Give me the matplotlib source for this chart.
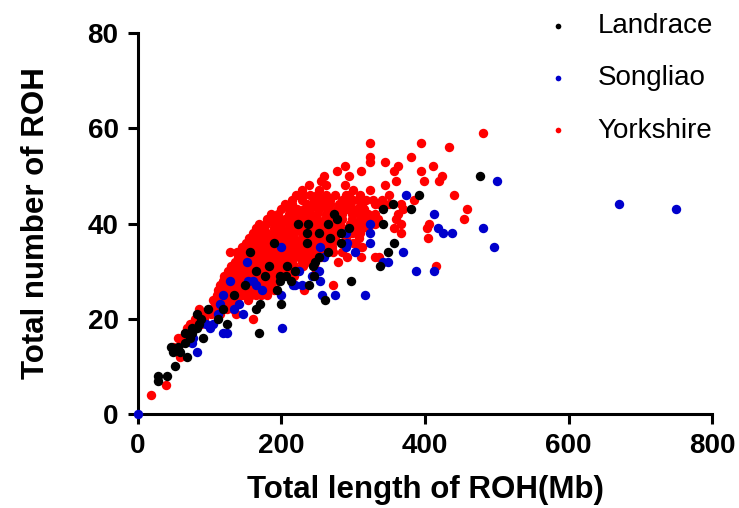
import numpy as np
import matplotlib.pyplot as plt

# Landrace (black)
landrace_x = [476, 391, 355, 380, 342, 342, 357, 348, 337, 297, 273, 277, 294, 283, 283,
              265, 237, 223, 236, 252, 236, 267, 265, 252, 247, 244, 246, 239, 260, 219,
              207, 206, 213, 198, 198, 194, 200, 190, 183, 177, 164, 156, 149, 170, 164,
              169, 134, 124, 118, 111, 98, 82, 88, 85, 82, 75, 72, 90, 65, 65, 56, 46, 49,
              59, 69, 52, 41, 28, 28, 75]
landrace_y = [50, 46, 44, 43, 43, 40, 36, 34, 31, 28, 42, 41, 39, 38, 36,
              40, 40, 40, 38, 38, 36, 37, 34, 33, 32, 31, 29, 27, 24, 30,
              31, 29, 28, 29, 28, 26, 23, 36, 31, 29, 30, 34, 27, 23, 22,
              17, 25, 19, 22, 20, 22, 21, 20, 19, 18, 17, 16, 16, 17, 15, 14, 14, 13,
              13, 12, 10, 8, 8, 7, 18]

# Songliao (blue)
songliao_x = [0, 500, 671, 750, 481, 496, 412, 418, 425, 437, 388, 412, 374, 369, 342,
              348, 323, 323, 324, 316, 290, 290, 291, 302, 275, 257, 259, 253, 252, 253,
              242, 229, 225, 219, 216, 200, 200, 201, 173, 164, 160, 154, 152, 147, 141,
              134, 128, 118, 115, 111, 118, 124, 105, 101, 95, 82, 75, 72, 77]
songliao_y = [0, 49, 44, 43, 39, 35, 42, 39, 38, 38, 30, 30, 46, 34, 32,
              32, 40, 38, 36, 25, 38, 35, 36, 34, 25, 25, 33, 35, 30, 28,
              29, 27, 30, 27, 27, 35, 25, 18, 26, 27, 28, 28, 32, 21, 23,
              22, 28, 25, 23, 21, 17, 17, 19, 18, 19, 13, 15, 17, 16]

# Yorkshire (red) - outer points and first pass through the dense cloud
yorkshire_x = [481, 395, 323, 433, 323, 380, 324, 344, 288, 363, 411, 311, 395, 277, 357,
               294, 259, 424, 419, 399, 359, 344, 324, 288, 239, 440, 385, 458, 455, 406,
               403, 404, 415, 367, 367, 360, 336, 331, 311, 306, 308, 279, 232, 160, 154,
               137, 128, 105, 85, 80, 56, 59, 49, 39, 18,
               255, 262, 300, 252, 228, 230, 262, 275, 310, 220,
               215, 245, 268, 285, 300, 318, 340, 205, 235, 258, 280, 296, 330, 350,
               200, 222, 240, 265, 290, 305, 370, 185, 210, 228, 250, 272, 298, 320,
               180, 195, 215, 240, 260, 285, 312, 335, 168, 178, 200, 222, 248, 270, 295, 330,
               165, 190, 210, 232, 258, 280, 305, 320, 160, 180, 198, 218, 240, 262, 285, 310,
               155, 172, 190, 208, 228, 250, 275, 150, 168, 185, 200, 215, 235, 258, 300,
               145, 160, 178, 195, 212, 230, 250, 270, 150, 170, 188, 205, 222, 240, 262, 285,
               140, 158, 175, 195, 215, 235, 255, 135, 150, 168, 185, 205, 228,
               130, 145, 162, 180, 198, 218, 245, 125, 140, 155, 172, 190, 210,
               120, 135, 150, 168, 185, 118, 132, 148, 162, 180, 195, 115, 128, 142, 158, 175,
               112, 125, 140, 155, 170, 190, 110, 122, 138, 150, 165, 180,
               115, 130, 108, 122, 140, 100, 115, 132, 95, 92, 88, 72, 78, 68, 65, 62, 60,
               357, 362, 367, 350, 336, 311, 306, 294, 288, 311, 331, 304, 312, 291,
               210, 225, 245, 268, 190, 205, 232, 255, 278, 212, 238, 262, 218, 248, 272]
yorkshire_y = [59, 57, 57, 56, 54, 54, 53, 53, 52, 52, 52, 51, 51, 51, 51,
               50, 50, 50, 49, 49, 49, 48, 47, 48, 48, 46, 45, 43, 41, 40,
               39, 37, 31, 38, 40, 41, 33, 33, 33, 35, 37, 32, 26, 20, 24,
               21, 34, 24, 22, 20, 16, 12, 14, 6, 4,
               49, 48, 47, 47, 47, 46, 46, 46, 46, 46,
               45, 45, 45, 45, 45, 45, 45, 44, 44, 44, 44, 44, 44, 44,
               43, 43, 43, 43, 43, 43, 43, 42, 42, 42, 42, 42, 42, 42,
               41, 41, 41, 41, 41, 41, 41, 41, 40, 40, 40, 40, 40, 40, 40, 40,
               39, 39, 39, 39, 39, 39, 39, 39, 38, 38, 38, 38, 38, 38, 38, 38,
               37, 37, 37, 37, 37, 37, 37, 36, 36, 36, 36, 36, 36, 36, 36,
               35, 35, 35, 35, 35, 35, 35, 35, 34, 34, 34, 34, 34, 34, 34, 34,
               33, 33, 33, 33, 33, 33, 33, 32, 32, 32, 32, 32, 32,
               31, 31, 31, 31, 31, 31, 31, 30, 30, 30, 30, 30, 30,
               29, 29, 29, 29, 29, 28, 28, 28, 28, 28, 28, 27, 27, 27, 27, 27,
               26, 26, 26, 26, 26, 26, 25, 25, 25, 25, 25, 25,
               24, 24, 23, 23, 23, 22, 22, 22, 21, 20, 19, 19, 18, 18, 17, 16, 15,
               39, 42, 44, 46, 44, 43, 45, 46, 44, 41, 41, 38, 35, 33,
               39, 41, 37, 37, 33, 36, 34, 39, 41, 31, 42, 36, 29, 30, 27]

# Yorkshire (red) - the rest of the dense cloud
yorkshire_x2 = [240, 250, 290, 228, 255, 292, 308, 328,
                215, 245, 268, 288, 312, 340, 210, 232, 252, 278, 298, 315,
                195, 218, 238, 262, 285, 308, 330, 188, 205, 228, 250, 272, 298, 322,
                190, 212, 235, 258, 282, 305, 318, 175, 200, 220, 245, 268, 292, 312,
                170, 190, 208, 228, 250, 272, 298, 162, 180, 198, 218, 238, 262, 290,
                158, 176, 192, 208, 225, 246, 270, 152, 168, 186, 204, 220, 240, 260,
                138, 160, 178, 196, 214, 232, 252, 272, 148, 166, 185, 205, 225, 245,
                142, 158, 176, 195, 215, 240, 138, 152, 170, 188, 208, 230,
                132, 148, 164, 180, 200, 128, 142, 158, 176, 195,
                125, 140, 155, 170, 188, 122, 135, 150, 166, 185,
                118, 132, 148, 162, 180, 115, 130, 145, 158, 172,
                110, 122, 138, 115, 130, 108, 124, 102, 115]
yorkshire_y2 = [46, 46, 46, 45, 45, 45, 45, 45,
                44, 44, 44, 44, 44, 44, 43, 43, 43, 43, 43, 43,
                42, 42, 42, 42, 42, 42, 42, 41, 41, 41, 41, 41, 41, 41,
                40, 40, 40, 40, 40, 40, 40, 39, 39, 39, 39, 39, 39, 39,
                38, 38, 38, 38, 38, 38, 38, 37, 37, 37, 37, 37, 37, 37,
                36, 36, 36, 36, 36, 36, 36, 35, 35, 35, 35, 35, 35, 35,
                34, 34, 34, 34, 34, 34, 34, 34, 33, 33, 33, 33, 33, 33,
                32, 32, 32, 32, 32, 32, 31, 31, 31, 31, 31, 31,
                30, 30, 30, 30, 30, 29, 29, 29, 29, 29,
                28, 28, 28, 28, 28, 27, 27, 27, 27, 27,
                26, 26, 26, 26, 26, 25, 25, 25, 25, 25,
                24, 24, 24, 23, 23, 22, 22, 21, 21]

plt.rcParams['font.family'] = 'Liberation Sans'

fig = plt.figure(figsize=(7.39, 5.08), dpi=100)
ax = fig.add_axes([0.1867, 0.185, 0.7768, 0.750])

ax.scatter(yorkshire_x + yorkshire_x2, yorkshire_y + yorkshire_y2, s=46, color='#ff0000',
           linewidths=0, zorder=2, clip_on=False, label='Yorkshire')
ax.scatter(songliao_x, songliao_y, s=46, color='#0000cc', linewidths=0, zorder=3,
           clip_on=False, label='Songliao')
ax.scatter(landrace_x, landrace_y, s=46, color='#000000', linewidths=0, zorder=4,
           clip_on=False, label='Landrace')

ax.set_xlim(0, 800)
ax.set_ylim(0, 80)
ax.set_xticks([0, 200, 400, 600, 800])
ax.set_yticks([0, 20, 40, 60, 80])
for s in ['top', 'right']:
    ax.spines[s].set_visible(False)
for s in ['left', 'bottom']:
    ax.spines[s].set_linewidth(2.2)
ax.tick_params(width=2.2, length=7, direction='out', labelsize=20, pad=7)
for lab in ax.get_xticklabels() + ax.get_yticklabels():
    lab.set_fontweight('bold')

ax.set_xlabel('Total length of ROH(Mb)', fontsize=22.5, fontweight='bold', labelpad=11)
ax.set_ylabel('Total number of ROH', fontsize=22.5, fontweight='bold', labelpad=26)

handles, labels = ax.get_legend_handles_labels()
order = [2, 1, 0]
fig.legend([handles[i] for i in order], [labels[i] for i in order],
           loc='upper left', bbox_to_anchor=(0.703, 1.024), frameon=False,
           fontsize=20, markerscale=0.6, handletextpad=0.9, labelspacing=0.95,
           handlelength=1.0)

fig.savefig('out.png', dpi=100)
